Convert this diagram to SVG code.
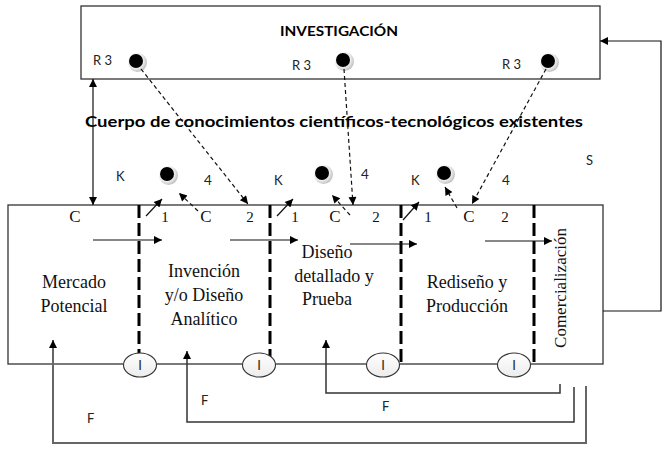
<svg xmlns="http://www.w3.org/2000/svg" width="667" height="452" viewBox="0 0 667 452">
<defs>
<style>
.box{fill:#fff;stroke:#333;stroke-width:1.3}
.div{stroke:#000;stroke-width:3;stroke-dasharray:13 5;fill:none}
.ln{stroke:#111;stroke-width:1.2;fill:none}
.dash{stroke:#111;stroke-width:1.2;stroke-dasharray:4 3;fill:none}
.fb{stroke:#333;stroke-width:1.5;fill:none}
.fbg{stroke:#666;stroke-width:2;fill:none}
.sans{font-family:Lato,"Liberation Sans",sans-serif;fill:#222}
.bold{font-family:Lato,"Open Sans",sans-serif;font-weight:bold;fill:#000}
.serif{font-family:"Liberation Serif","Times New Roman",serif;fill:#111}
.st{font-size:18px}
.ell{fill:url(#eg);stroke:#333;stroke-width:1.1}
</style>
<radialGradient id="halo" cx="0.4" cy="0.4" r="0.6">
<stop offset="0.55" stop-color="#ffffff"/>
<stop offset="1" stop-color="#c4c4c4"/>
</radialGradient>
<linearGradient id="eg" x1="0" y1="0" x2="0" y2="1">
<stop offset="0" stop-color="#ffffff"/>
<stop offset="1" stop-color="#ececec"/>
</linearGradient>
<marker id="ah" viewBox="0 0 10 10" refX="10" refY="5" markerWidth="10" markerHeight="8" markerUnits="userSpaceOnUse" orient="auto-start-reverse">
<path d="M0,0 L10,5 L0,10 z" fill="#000"/>
</marker>
<g id="dot">
<circle cx="1.5" cy="1.5" r="9.5" fill="url(#halo)"/>
<circle cx="0" cy="0" r="7" fill="#000"/>
</g>
</defs>

<g id="investigacion">
<rect class="box" x="81" y="6" width="519" height="73"/>
<text class="bold" x="280" y="36" font-size="14" textLength="118" lengthAdjust="spacingAndGlyphs">INVESTIGACIÓN</text>
<text class="sans" x="93" y="65" font-size="13">R 3</text>
<text class="sans" x="292" y="70" font-size="13">R 3</text>
<text class="sans" x="502" y="69" font-size="13">R 3</text>
<use href="#dot" x="136" y="61"/>
<use href="#dot" x="343" y="60"/>
<use href="#dot" x="548" y="61"/>
</g>

<g id="cuerpo">
<text class="bold" x="85" y="127" font-size="14.5" textLength="498" lengthAdjust="spacingAndGlyphs">Cuerpo de conocimientos científicos-tecnológicos existentes</text>
</g>

<g id="proceso">
<rect class="box" x="8" y="205" width="595" height="159"/>
</g>

<g id="divisores">
<line class="div" x1="139" y1="205" x2="139" y2="364"/>
<line class="div" x1="270" y1="205" x2="270" y2="364"/>
<line class="div" x1="401" y1="205" x2="401" y2="364"/>
<line class="div" x1="534" y1="205" x2="534" y2="364"/>
</g>

<g id="conocimiento">
<text class="sans" x="116" y="181" font-size="13">K</text>
<text class="sans" x="274" y="185" font-size="13">K</text>
<text class="sans" x="411" y="185" font-size="13">K</text>
<use href="#dot" x="167" y="174"/>
<use href="#dot" x="322" y="173"/>
<use href="#dot" x="444" y="173"/>
<text class="sans" x="204" y="185" font-size="13.5">4</text>
<text class="sans" x="361" y="179" font-size="13.5">4</text>
<text class="sans" x="502" y="185" font-size="13.5">4</text>
<text class="sans" x="586" y="165" font-size="13">S</text>
</g>

<g id="etiquetas-superiores">
<text class="serif" x="75" y="222" font-size="17" text-anchor="middle">C</text>
<text class="serif" x="165" y="222" font-size="15" text-anchor="middle">1</text>
<text class="serif" x="206" y="222" font-size="17" text-anchor="middle">C</text>
<text class="serif" x="250" y="222" font-size="15" text-anchor="middle">2</text>
<text class="serif" x="295" y="222" font-size="15" text-anchor="middle">1</text>
<text class="serif" x="335" y="222" font-size="17" text-anchor="middle">C</text>
<text class="serif" x="376" y="222" font-size="15" text-anchor="middle">2</text>
<text class="serif" x="428" y="222" font-size="15" text-anchor="middle">1</text>
<text class="serif" x="469" y="222" font-size="17" text-anchor="middle">C</text>
<text class="serif" x="505" y="222" font-size="15" text-anchor="middle">2</text>
</g>

<g id="mercado">
<text class="serif st" x="74" y="288" text-anchor="middle">Mercado</text>
<text class="serif st" x="74" y="312" text-anchor="middle">Potencial</text>
</g>
<g id="invencion">
<text class="serif st" x="204" y="277" text-anchor="middle">Invención</text>
<text class="serif st" x="204" y="301" text-anchor="middle">y/o Diseño</text>
<text class="serif st" x="204" y="325" text-anchor="middle">Analítico</text>
</g>
<g id="diseno">
<text class="serif st" x="327" y="258" text-anchor="middle">Diseño</text>
<text class="serif st" x="334" y="282" text-anchor="middle">detallado y</text>
<text class="serif st" x="327" y="305" text-anchor="middle">Prueba</text>
</g>
<g id="rediseno">
<text class="serif st" x="467" y="288" text-anchor="middle">Rediseño y</text>
<text class="serif st" x="467" y="312" text-anchor="middle">Producción</text>
</g>
<g id="comercializacion">
<text class="serif" x="0" y="0" font-size="17" text-anchor="middle" transform="translate(566,288) rotate(-90)">Comercialización</text>
</g>

<g id="conectores">
<line class="ln" x1="93" y1="79" x2="93" y2="205" marker-start="url(#ah)" marker-end="url(#ah)"/>
<line class="dash" x1="141" y1="69" x2="248" y2="204" marker-end="url(#ah)"/>
<line class="dash" x1="344" y1="69" x2="353" y2="205" marker-end="url(#ah)"/>
<line class="dash" x1="546" y1="69" x2="472" y2="204" marker-end="url(#ah)"/>
<line class="ln" x1="146" y1="216" x2="162" y2="199" marker-end="url(#ah)"/>
<line class="ln" x1="277" y1="216" x2="293" y2="199" marker-end="url(#ah)"/>
<line class="ln" x1="403" y1="220" x2="419" y2="202" marker-end="url(#ah)"/>
<line class="dash" x1="198" y1="211" x2="179" y2="193" marker-end="url(#ah)"/>
<line class="dash" x1="350" y1="215" x2="332" y2="195" marker-end="url(#ah)"/>
<line class="dash" x1="457" y1="208" x2="445" y2="187" marker-end="url(#ah)"/>
<line class="ln" x1="93" y1="240" x2="162" y2="240" marker-end="url(#ah)"/>
<line class="ln" x1="230" y1="240" x2="298" y2="240" marker-end="url(#ah)"/>
<line class="ln" x1="350" y1="244" x2="417" y2="244" marker-end="url(#ah)"/>
<line class="ln" x1="485" y1="241" x2="552" y2="241" marker-end="url(#ah)"/>
<polyline class="ln" points="603,311 661,311 661,41 600,41" marker-end="url(#ah)"/>
<polyline class="fb" points="560,384 560,393 326,393 326,340" marker-end="url(#ah)"/>
<polyline class="fb" points="574,387 574,422 187,422 187,351" marker-end="url(#ah)"/>
<polyline class="fbg" points="586,386 586,443 53,443 53,340" marker-end="url(#ah)"/>
</g>

<g id="interfaces">
<ellipse class="ell" cx="140" cy="365" rx="16.5" ry="12"/>
<ellipse class="ell" cx="259" cy="365" rx="16.5" ry="12"/>
<ellipse class="ell" cx="383" cy="365" rx="16.5" ry="12"/>
<ellipse class="ell" cx="514" cy="365" rx="16.5" ry="12"/>
<text class="sans" x="140" y="370" font-size="13" text-anchor="middle">I</text>
<text class="sans" x="259" y="370" font-size="13" text-anchor="middle">I</text>
<text class="sans" x="383" y="370" font-size="13" text-anchor="middle">I</text>
<text class="sans" x="514" y="370" font-size="13" text-anchor="middle">I</text>
</g>

<g id="retroalimentacion">
<text class="sans" x="87" y="423" font-size="13">F</text>
<text class="sans" x="201" y="405" font-size="13">F</text>
<text class="sans" x="382" y="411" font-size="13">F</text>
</g>
</svg>
